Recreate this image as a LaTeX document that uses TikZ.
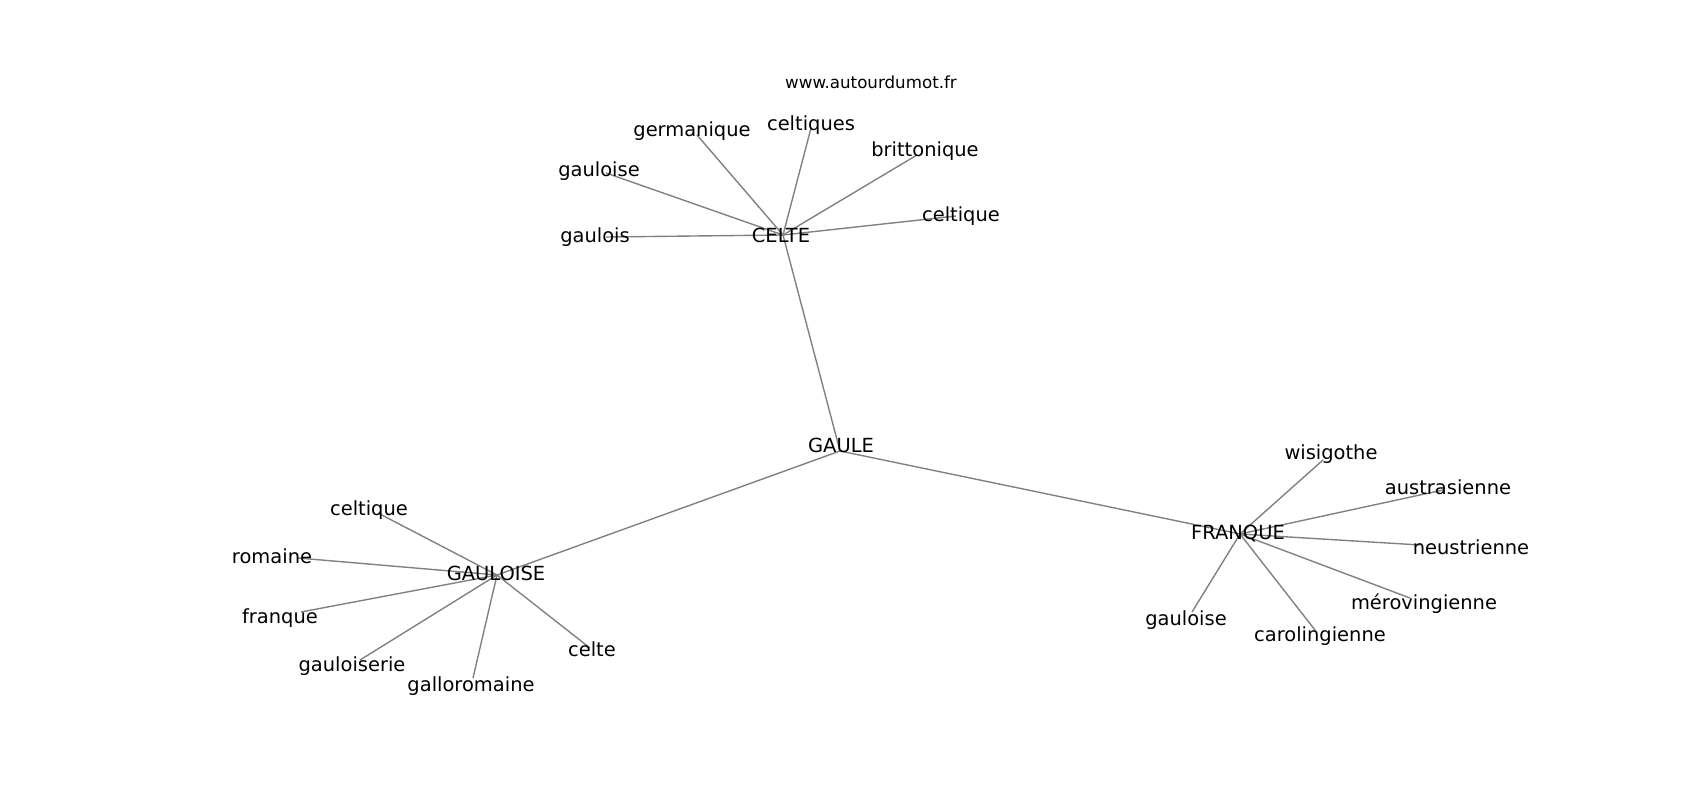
\documentclass[tikz,border=0pt]{standalone}
\usepackage{fontspec}
\setmainfont{DejaVu Sans}
\newcommand{\wordsize}{\fontsize{14.05}{16}\selectfont}
\newcommand{\sitesize}{\fontsize{12.05}{14}\selectfont}
\begin{document}
\begin{tikzpicture}[x=0.01in,y=-0.01in,
    link/.style={draw=gray,line width=1bp},
    word/.style={anchor=base,inner sep=0pt,font=\wordsize,text=black}]
            \useasboundingbox (0,0) rectangle (1700,800);
            % points of the graph
            \coordinate (gaule) at (840,451);
            \coordinate (celte) at (783,235);
            \coordinate (gauloise) at (497,575);
            \coordinate (franque) at (1240,534);
            \coordinate (c-germanique) at (697,135);
            \coordinate (c-celtiques) at (811,128);
            \coordinate (c-brittonique) at (917,155);
            \coordinate (c-celtique) at (956,216);
            \coordinate (c-gaulois) at (606,237);
            \coordinate (c-gauloise) at (606,173);
            \coordinate (g-celtique) at (378,513);
            \coordinate (g-romaine) at (298,558);
            \coordinate (g-franque) at (301,612);
            \coordinate (g-gauloiserie) at (360,660);
            \coordinate (g-galloromaine) at (473,678);
            \coordinate (g-celte) at (590,648);
            \coordinate (f-wisigothe) at (1323,460);
            \coordinate (f-austrasienne) at (1443,490);
            \coordinate (f-neustrienne) at (1420,545);
            \coordinate (f-merovingienne) at (1410,598);
            \coordinate (f-carolingienne) at (1315,630);
            \coordinate (f-gauloise) at (1192,612);
            % edges
            \draw[link](gaule)--(celte);
            \draw[link](gaule)--(gauloise);
            \draw[link](gaule)--(franque);
            \draw[link](celte)--(c-germanique);
            \draw[link](celte)--(c-celtiques);
            \draw[link](celte)--(c-brittonique);
            \draw[link](celte)--(c-celtique);
            \draw[link](celte)--(c-gaulois);
            \draw[link](celte)--(c-gauloise);
            \draw[link](gauloise)--(g-celtique);
            \draw[link](gauloise)--(g-romaine);
            \draw[link](gauloise)--(g-franque);
            \draw[link](gauloise)--(g-gauloiserie);
            \draw[link](gauloise)--(g-galloromaine);
            \draw[link](gauloise)--(g-celte);
            \draw[link](franque)--(f-wisigothe);
            \draw[link](franque)--(f-austrasienne);
            \draw[link](franque)--(f-neustrienne);
            \draw[link](franque)--(f-merovingienne);
            \draw[link](franque)--(f-carolingienne);
            \draw[link](franque)--(f-gauloise);
            % labels
            \node[word] (t-gaule) at (841,453) {GAULE};
            \node[word] (t-celte) at (781,243) {CELTE};
            \node[word] (t-gauloise) at (496,580) {GAULOISE};
            \node[word] (t-franque) at (1238,539) {FRANQUE};
            \node[word] (t-c-germanique) at (692,137) {germanique};
            \node[word] (t-c-celtiques) at (811,131) {celtiques};
            \node[word] (t-c-brittonique) at (925,157) {brittonique};
            \node[word] (t-c-celtique) at (961,222) {celtique};
            \node[word] (t-c-gaulois) at (595,243) {gaulois};
            \node[word] (t-c-gauloise) at (599,177) {gauloise};
            \node[word] (t-g-celtique) at (369,515) {celtique};
            \node[word] (t-g-romaine) at (272,563) {romaine};
            \node[word] (t-g-franque) at (280,623) {franque};
            \node[word] (t-g-gauloiserie) at (352,671) {gauloiserie};
            \node[word] (t-g-galloromaine) at (471,691) {galloromaine};
            \node[word] (t-g-celte) at (592,656) {celte};
            \node[word] (t-f-wisigothe) at (1331,460) {wisigothe};
            \node[word] (t-f-austrasienne) at (1448,494) {austrasienne};
            \node[word] (t-f-neustrienne) at (1471,554) {neustrienne};
            \node[word] (t-f-merovingienne) at (1424,609) {mérovingienne};
            \node[word] (t-f-carolingienne) at (1320,641) {carolingienne};
            \node[word] (t-f-gauloise) at (1186,625) {gauloise};
            \node[word,font=\sitesize] (site) at (871,89) {www.autourdumot.fr};
\end{tikzpicture}
\end{document}
